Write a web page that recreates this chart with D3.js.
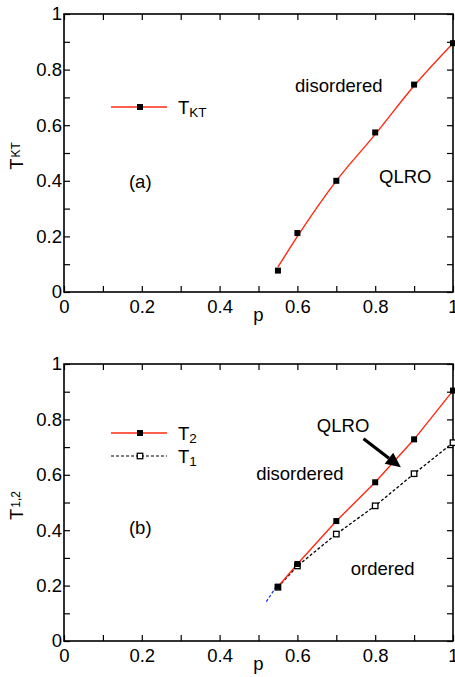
<!DOCTYPE html>
<html>
<head>
<meta charset="utf-8">
<script src="https://cdn.jsdelivr.net/npm/d3@7"></script>
<style>
  body { margin: 0; background: #fff; }
  svg text { font-family: "Liberation Sans", Arial, Helvetica, sans-serif; fill: #000; }
</style>
</head>
<body>
<div id="chart"></div>
<script>
// ---- data ----
var pVals = [0.55, 0.6, 0.7, 0.8, 0.9, 1.0];
var tKT = [0.077, 0.212, 0.40, 0.574, 0.746, 0.895];
var tKTfit = [0.09, 0.20, 0.40, 0.567, 0.742, 0.895];
var t2 = [0.196, 0.278, 0.433, 0.573, 0.728, 0.904];
var t1 = [0.194, 0.271, 0.386, 0.488, 0.604, 0.716];
var blueP = [0.52, 0.55];
var blueT = [0.142, 0.205];
var minorTicks = [0, 0.1, 0.2, 0.3, 0.4, 0.5, 0.6, 0.7, 0.8, 0.9, 1];
var majorTicks = [0, 0.2, 0.4, 0.6, 0.8, 1];

var W = 455, H = 677;
var fs = 18.5;
var red = "#ff2a10";

var svg = d3.select("#chart").append("svg")
    .attr("width", W).attr("height", H);

function fmt(d) {
    if (d === 0 || d === 1) return String(d);
    return d.toFixed(1);
}

function panel(top, height) {
    var left = 64, width = 389;
    var g = svg.append("g").attr("transform", "translate(" + left + "," + top + ")");
    var x = d3.scaleLinear().domain([0, 1]).range([0, width]);
    var y = d3.scaleLinear().domain([0, 1]).range([height, 0]);

    // ticks on all four sides, pointing in
    g.append("g").attr("transform", "translate(0," + height + ")")
        .call(d3.axisBottom(x).tickValues(minorTicks).tickSizeInner(-6).tickSizeOuter(0).tickFormat(""));
    g.append("g")
        .call(d3.axisTop(x).tickValues(minorTicks).tickSizeInner(-6).tickSizeOuter(0).tickFormat(""));
    g.append("g")
        .call(d3.axisLeft(y).tickValues(minorTicks).tickSizeInner(-6).tickSizeOuter(0).tickFormat(""));
    g.append("g").attr("transform", "translate(" + width + ",0)")
        .call(d3.axisRight(y).tickValues(minorTicks).tickSizeInner(-6).tickSizeOuter(0).tickFormat(""));

    // tick labels
    var xl = g.append("g").attr("transform", "translate(0," + height + ")")
        .call(d3.axisBottom(x).tickValues(majorTicks).tickSize(0).tickPadding(8).tickFormat(fmt));
    var yl = g.append("g")
        .call(d3.axisLeft(y).tickValues(majorTicks).tickSize(0).tickPadding(2).tickFormat(fmt));
    [xl, yl].forEach(function (a) {
        a.select(".domain").remove();
        a.selectAll("text").style("font-size", fs + "px")
            .style("font-family", "'Liberation Sans', Arial, sans-serif");
    });
    g.selectAll(".tick line").attr("stroke-width", 1.2);
    g.selectAll(".domain").attr("stroke", "none");

    // frame
    g.append("rect").attr("width", width).attr("height", height)
        .attr("fill", "none").attr("stroke", "#000").attr("stroke-width", 1.6);

    // p label
    g.append("text").attr("x", x(0.5)).attr("y", height + 29)
        .attr("text-anchor", "middle").style("font-size", fs + "px").text("p");

    return { g: g, x: x, y: y, width: width, height: height };
}

function yTitle(P, sub) {
    var t = P.g.append("text")
        .attr("transform", "translate(-41," + (P.y(0.5) + 3) + ") rotate(-90)")
        .attr("text-anchor", "middle").style("font-size", fs + "px");
    t.append("tspan").text("T");
    t.append("tspan").attr("dy", -3).attr("dx", 1).style("font-size", "12px").text(sub);
}

function label(P, p, T, txt) {
    P.g.append("text").attr("x", P.x(p)).attr("y", P.y(T))
        .style("font-size", fs + "px").text(txt);
}

function squares(P, ps, ts, filled) {
    var s = filled ? 6 : 5.5;
    P.g.append("g").selectAll("rect").data(ps).enter().append("rect")
        .attr("x", function (d) { return P.x(d) - s / 2; })
        .attr("y", function (d, i) { return P.y(ts[i]) - s / 2; })
        .attr("width", s).attr("height", s)
        .attr("fill", filled ? "#000" : "#fff")
        .attr("stroke", "#000").attr("stroke-width", filled ? 0 : 1.3);
}

function legendEntry(P, ly, color, dash, filled, main, sub) {
    var g = P.g.append("g").attr("transform", "translate(0," + ly + ")");
    g.append("line").attr("x1", 47).attr("x2", 103)
        .attr("stroke", color).attr("stroke-width", dash ? 1.2 : 1.4)
        .attr("stroke-dasharray", dash ? "3,2" : null);
    var s = filled ? 6 : 5.5;
    g.append("rect").attr("x", 76 - s / 2).attr("y", -s / 2).attr("width", s).attr("height", s)
        .attr("fill", filled ? "#000" : "#fff").attr("stroke", "#000")
        .attr("stroke-width", filled ? 0 : 1.3);
    var t = g.append("text").attr("x", 114).attr("y", 6.5).style("font-size", fs + "px");
    t.append("tspan").text(main);
    t.append("tspan").attr("dy", 3.5).style("font-size", "13.5px").text(sub);
}

// ---- panel (a) ----
var A = panel(14, 278);
yTitle(A, "KT");
var lineA = d3.line()
    .x(function (d, i) { return A.x(pVals[i]); })
    .y(function (d) { return A.y(d); })
    .curve(d3.curveMonotoneX);
A.g.append("path").attr("d", lineA(tKTfit))
    .attr("fill", "none").attr("stroke", red).attr("stroke-width", 1.4);
squares(A, pVals, tKT, true);
legendEntry(A, 93, red, false, true, "T", "KT");
label(A, 0.167, 0.374, "(a)");
label(A, 0.594, 0.719, "disordered");
label(A, 0.81, 0.393, "QLRO");

// ---- panel (b) ----
var B = panel(364, 277);
yTitle(B, "1,2");
var lineB = d3.line()
    .x(function (d, i) { return B.x(pVals[i]); })
    .y(function (d) { return B.y(d); });
var lineBlue = d3.line()
    .x(function (d, i) { return B.x(blueP[i]); })
    .y(function (d) { return B.y(d); });
B.g.append("path").attr("d", lineBlue(blueT))
    .attr("fill", "none").attr("stroke", "#2233ee").attr("stroke-width", 1.3)
    .attr("stroke-dasharray", "3,2");
B.g.append("path").attr("d", lineB(t1))
    .attr("fill", "none").attr("stroke", "#000").attr("stroke-width", 1.3)
    .attr("stroke-dasharray", "3,2");
B.g.append("path").attr("d", lineB(t2))
    .attr("fill", "none").attr("stroke", red).attr("stroke-width", 1.4);
squares(B, pVals, t1, false);
squares(B, pVals, t2, true);
legendEntry(B, 69, red, false, true, "T", "2");
legendEntry(B, 92, "#000", true, false, "T", "1");
label(B, 0.167, 0.386, "(b)");
label(B, 0.494, 0.581, "disordered");
label(B, 0.737, 0.238, "ordered");
label(B, 0.650, 0.756, "QLRO");

// arrow pointing at the QLRO band
var a0 = [B.x(0.77), B.y(0.73)], a1 = [B.x(0.866), B.y(0.627)];
var ang = Math.atan2(a1[1] - a0[1], a1[0] - a0[0]);
var hl = 15, hw = 7;
var bx = a1[0] - hl * Math.cos(ang), by = a1[1] - hl * Math.sin(ang);
B.g.append("line").attr("x1", a0[0]).attr("y1", a0[1]).attr("x2", bx).attr("y2", by)
    .attr("stroke", "#000").attr("stroke-width", 3.2);
B.g.append("path")
    .attr("d", "M" + a1[0] + "," + a1[1] +
        "L" + (bx + hw * Math.sin(ang)) + "," + (by - hw * Math.cos(ang)) +
        "L" + (bx - hw * Math.sin(ang)) + "," + (by + hw * Math.cos(ang)) + "Z")
    .attr("fill", "#000");
</script>
</body>
</html>
